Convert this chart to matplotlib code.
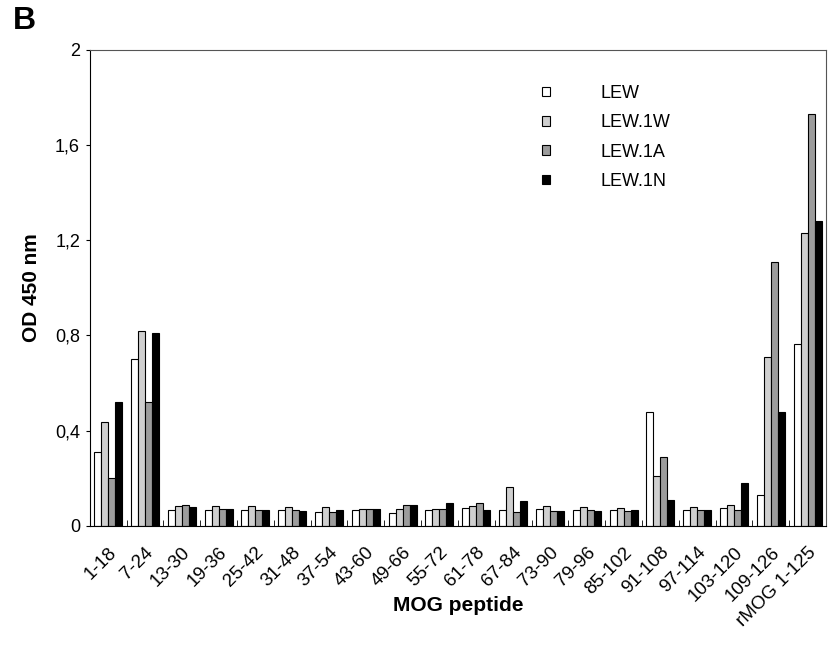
import numpy as np
import matplotlib
matplotlib.use("Agg")
import matplotlib.pyplot as plt

plt.rcParams['font.family'] = ['Liberation Sans', 'DejaVu Sans']

peptidos = ["1-18", "7-24", "13-30", "19-36", "25-42", "31-48", "37-54", "43-60",
            "49-66", "55-72", "61-78", "67-84", "73-90", "79-96", "85-102",
            "91-108", "97-114", "103-120", "109-126", "rMOG 1-125"]

lew   = [0.31, 0.70, 0.067, 0.067, 0.067, 0.065, 0.06, 0.065, 0.055, 0.065,
         0.075, 0.065, 0.07, 0.065, 0.065, 0.48, 0.065, 0.075, 0.13, 0.765]
lew1w = [0.435, 0.82, 0.085, 0.083, 0.083, 0.078, 0.078, 0.072, 0.07, 0.07,
         0.085, 0.165, 0.085, 0.08, 0.075, 0.21, 0.08, 0.088, 0.71, 1.23]
lew1a = [0.20, 0.52, 0.088, 0.07, 0.068, 0.065, 0.06, 0.072, 0.088, 0.07,
         0.098, 0.06, 0.062, 0.065, 0.062, 0.29, 0.065, 0.067, 1.11, 1.73]
lew1n = [0.52, 0.81, 0.08, 0.07, 0.068, 0.062, 0.065, 0.072, 0.088, 0.095,
         0.065, 0.105, 0.062, 0.062, 0.068, 0.11, 0.065, 0.18, 0.48, 1.28]

series = [("LEW", lew, "white"), ("LEW.1W", lew1w, "#cfcfcf"),
          ("LEW.1A", lew1a, "#9c9c9c"), ("LEW.1N", lew1n, "black")]

fig = plt.figure(figsize=(8.31, 6.46), dpi=100)
ax = fig.add_axes([0.108, 0.186, 0.886, 0.737])

x = np.arange(len(peptidos))
w = 0.19
for i, (nombre, vals, color) in enumerate(series):
    ax.bar(x + (i - 1.5) * w, vals, w, color=color, edgecolor="black",
           linewidth=0.8, label=nombre)

ax.set_xlim(-0.5, len(peptidos) - 0.5)
ax.set_ylim(0, 2)
ax.set_yticks([0, 0.4, 0.8, 1.2, 1.6, 2])
ax.set_yticklabels(["0", "0,4", "0,8", "1,2", "1,6", "2"], fontsize=13)
ax.set_xticks(x)
ax.set_xticklabels(peptidos, rotation=45, ha="right", rotation_mode="anchor", fontsize=13.5)
ax.tick_params(axis="x", length=0, pad=13)
ax.set_xticks(np.arange(-0.5, len(peptidos)), minor=True)
ax.tick_params(axis="x", which="minor", direction="in", length=4)
ax.tick_params(axis="y", direction="out", length=3, pad=4)

ax.set_ylabel("OD 450 nm", fontsize=15, fontweight="bold", labelpad=10)
ax.set_xlabel("MOG peptide", fontsize=15, fontweight="bold")
ax.xaxis.set_label_coords(0.5, -0.148)

for s in ["top", "right"]:
    ax.spines[s].set_color("#555555")
    ax.spines[s].set_linewidth(0.8)

ax.legend(loc="upper left", bbox_to_anchor=(0.592, 0.96), frameon=False, fontsize=13,
          handlelength=0.45, handleheight=0.45, handletextpad=2.8, labelspacing=0.68)

fig.text(0.015, 0.955, "B", fontsize=23, fontweight="bold")

fig.savefig("out.png", dpi=100)
